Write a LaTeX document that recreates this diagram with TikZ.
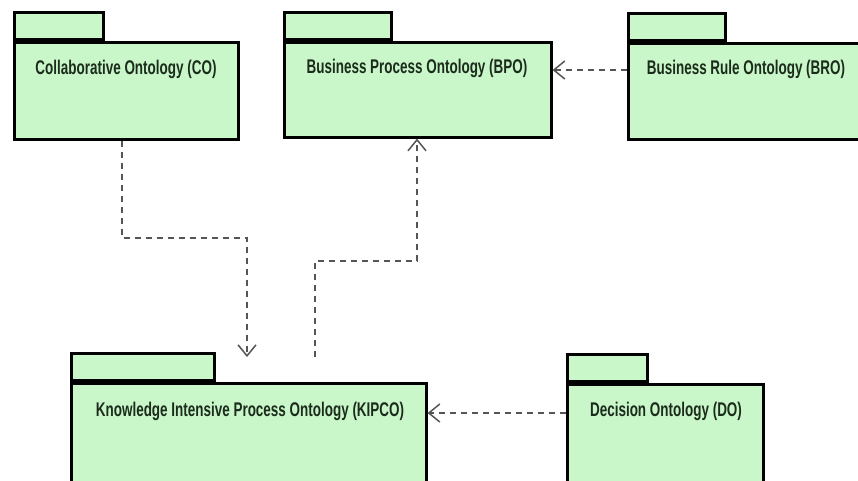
\documentclass[tikz,border=0pt]{standalone}
\usepackage{fontspec}
\setmainfont{Liberation Sans}[FakeStretch=0.68]
\usetikzlibrary{arrows.meta}
\definecolor{pkgfill}{RGB}{202,247,202}
\definecolor{pkgtext}{RGB}{28,44,28}
\definecolor{depgray}{RGB}{85,85,85}
\tikzset{
  pkgbody/.style={draw=black, fill=pkgfill, line width=2.6pt, inner sep=0pt, anchor=north west},
  pkgtab/.style={draw=black, fill=pkgfill, line width=2.6pt, inner sep=0pt, anchor=south west, minimum height=27pt},
  pkglabel/.style={font=\bfseries\fontsize{19.8}{22}\selectfont, text=pkgtext, inner sep=0pt},
  dep/.style={draw=depgray, line width=1.6pt, dash pattern=on 6pt off 5pt,
    -{Straight Barb[length=11pt,width=18pt,line width=1.5pt]}}
}
\begin{document}
\begin{tikzpicture}[x=1pt,y=-1pt]
\useasboundingbox (0,0) rectangle (858,480);
\fill[white] (0,0) rectangle (858,480);
\clip (0,0) rectangle (858,480);

% package bodies
\node[pkgbody, minimum width=224pt, minimum height=97pt] (co) at (13,41) {};
\node[pkgbody, minimum width=267pt, minimum height=95pt] (bpo) at (283,41) {};
\node[pkgbody, minimum width=260pt, minimum height=96pt] (bro) at (627,42) {};
\node[pkgbody, minimum width=355pt, minimum height=110pt] (kipco) at (70,382) {};
\node[pkgbody, minimum width=196pt, minimum height=110pt] (do) at (566,383) {};

% package tabs
\node[pkgtab, minimum width=89pt] (cotab) at (co.north west) {};
\node[pkgtab, minimum width=107pt] (bpotab) at (bpo.north west) {};
\node[pkgtab, minimum width=97pt] (brotab) at (bro.north west) {};
\node[pkgtab, minimum width=143pt] (kipcotab) at (kipco.north west) {};
\node[pkgtab, minimum width=80pt] (dotab) at (do.north west) {};

% package names
\node[pkglabel] (colbl) at (126,69) {Collaborative Ontology (CO)};
\node[pkglabel] (bpolbl) at (417,68) {Business Process Ontology (BPO)};
\node[pkglabel] (brolbl) at (746,69) {Business Rule Ontology (BRO)};
\node[pkglabel] (kipcolbl) at (250,411) {Knowledge Intensive Process Ontology (KIPCO)};
\node[pkglabel] (dolbl) at (666,411) {Decision Ontology (DO)};

% bend points of the dependencies
\coordinate (c1a) at (122,238);
\coordinate (c1b) at (247,357);
\coordinate (c2a) at (315,357);
\coordinate (c2b) at (417,261);
\coordinate (c3) at (0,70);
\coordinate (c4) at (0,413);

% dependencies
\draw[dep] (co.south -| c1a) -- (c1a) -| (c1b);
\draw[dep] (c2a) |- (c2b) -- (bpo.south -| c2b);
\draw[dep] (bro.west |- c3) -- (bpo.east |- c3);
\draw[dep] (do.west |- c4) -- (kipco.east |- c4);
\end{tikzpicture}
\end{document}
